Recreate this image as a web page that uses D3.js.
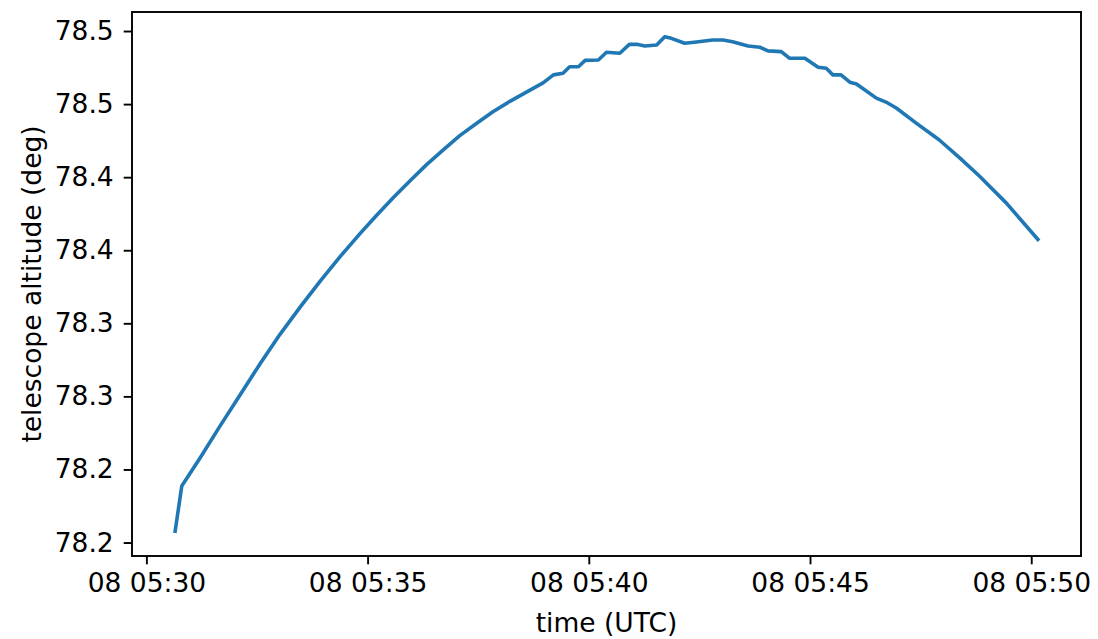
<!DOCTYPE html>
<html>
<head>
<meta charset="utf-8">
<script src="https://cdn.jsdelivr.net/npm/d3@7"></script>
<style>
  body { margin: 0; background: #fff; }
  text { font-family: "DejaVu Sans", sans-serif; }
</style>
</head>
<body>
<svg id="chart" width="1098" height="639"></svg>
<script>
'use strict';

// sample times (UTC, day 08) and telescope altitude in degrees
var times = [
  '05:30:39', '05:30:48', '05:31:13', '05:31:40', '05:32:07', '05:32:34',
  '05:33:01', '05:33:29', '05:33:56', '05:34:23', '05:34:50', '05:35:12',
  '05:35:35', '05:35:58', '05:36:20', '05:36:43', '05:37:05', '05:37:28',
  '05:37:50', '05:38:13', '05:38:36', '05:38:58', '05:39:12', '05:39:25',
  '05:39:34', '05:39:46', '05:39:55', '05:40:13', '05:40:24', '05:40:42',
  '05:40:55', '05:41:05', '05:41:16', '05:41:32', '05:41:43', '05:41:52',
  '05:42:10', '05:42:26', '05:42:48', '05:43:02', '05:43:15', '05:43:36',
  '05:43:52', '05:44:03', '05:44:21', '05:44:32', '05:44:53', '05:45:11',
  '05:45:22', '05:45:31', '05:45:42', '05:45:54', '05:46:03', '05:46:30',
  '05:46:43', '05:46:57', '05:47:24', '05:47:55', '05:48:23', '05:48:50',
  '05:49:26', '05:50:09'
];
var altitude = [
  78.2077, 78.2387, 78.2580, 78.2798, 78.3010, 78.3221,
  78.3423, 78.3614, 78.3791, 78.3958, 78.4115, 78.4238,
  78.4361, 78.4477, 78.4586, 78.4688, 78.4784, 78.4869,
  78.4947, 78.5019, 78.5084, 78.5145, 78.5200, 78.5211,
  78.5256, 78.5256, 78.5299, 78.5302, 78.5355, 78.5348,
  78.5409, 78.5409, 78.5398, 78.5404, 78.5461, 78.5450,
  78.5416, 78.5425, 78.5439, 78.5439, 78.5427, 78.5398,
  78.5389, 78.5364, 78.5359, 78.5314, 78.5314, 78.5252,
  78.5245, 78.5200, 78.5200, 78.5150, 78.5138, 78.5041,
  78.5014, 78.4973, 78.4870, 78.4756, 78.4632, 78.4506,
  78.4324, 78.4074
];

var xTicks = ['05:30:00', '05:35:00', '05:40:00', '05:45:00', '05:50:00'];
var yTicks = [78.20, 78.25, 78.30, 78.35, 78.40, 78.45, 78.50, 78.55];
var yTickLabels = ['78.2', '78.2', '78.3', '78.3', '78.4', '78.4', '78.5', '78.5'];

var day = '2021-01-08T';
var parse = d3.utcParse('%Y-%m-%dT%H:%M:%S');
var data = times.map(function (t, i) {
  return { t: parse(day + t), v: altitude[i] };
});

var svg = d3.select('#chart');
var margin = { left: 132, top: 12, right: 17, bottom: 83 };
var W = 1098, H = 639;
var innerW = W - margin.left - margin.right;
var innerH = H - margin.top - margin.bottom;
var fontSize = '26.5px';

// matplotlib style 5% margins around the data
var tExt = d3.extent(data, function (d) { return d.t; });
var vExt = d3.extent(data, function (d) { return d.v; });
var tPad = (tExt[1] - tExt[0]) * 0.05;
var vPad = (vExt[1] - vExt[0]) * 0.05;

var x = d3.scaleUtc()
  .domain([new Date(+tExt[0] - tPad), new Date(+tExt[1] + tPad)])
  .range([0, innerW]);
var y = d3.scaleLinear()
  .domain([vExt[0] - vPad, vExt[1] + vPad])
  .range([innerH, 0]);

var g = svg.append('g')
  .attr('transform', 'translate(' + margin.left + ',' + margin.top + ')');

var fmt = d3.utcFormat('%d %H:%M');

var xAxis = d3.axisBottom(x)
  .tickValues(xTicks.map(function (t) { return parse(day + t); }))
  .tickFormat(fmt)
  .tickSizeInner(8.3)
  .tickSizeOuter(0)
  .tickPadding(9);

var yAxis = d3.axisLeft(y)
  .tickValues(yTicks)
  .tickFormat(function (d, i) { return yTickLabels[i]; })
  .tickSizeInner(8.3)
  .tickSizeOuter(0)
  .tickPadding(10);

var gx = g.append('g')
  .attr('transform', 'translate(0,' + innerH + ')')
  .call(xAxis);
var gy = g.append('g').call(yAxis);

[gx, gy].forEach(function (a) {
  a.select('.domain').remove();
  a.selectAll('line').attr('stroke', '#000').attr('stroke-width', 1.9);
  a.selectAll('text')
    .attr('fill', '#000')
    .style('font-size', fontSize)
    .style('font-family', '"DejaVu Sans", sans-serif');
});

// frame
g.append('rect')
  .attr('width', innerW)
  .attr('height', innerH)
  .attr('fill', 'none')
  .attr('stroke', '#000')
  .attr('stroke-width', 1.9);

var line = d3.line()
  .x(function (d) { return x(d.t); })
  .y(function (d) { return y(d.v); });

g.append('path')
  .datum(data)
  .attr('d', line)
  .attr('fill', 'none')
  .attr('stroke', '#1f77b4')
  .attr('stroke-width', 3.6)
  .attr('stroke-linejoin', 'round')
  .attr('stroke-linecap', 'square');

svg.append('text')
  .attr('x', margin.left + innerW / 2)
  .attr('y', 632)
  .attr('text-anchor', 'middle')
  .style('font-size', fontSize)
  .text('time (UTC)');

svg.append('text')
  .attr('transform', 'translate(41,' + (margin.top + innerH / 2) + ') rotate(-90)')
  .attr('text-anchor', 'middle')
  .style('font-size', fontSize)
  .text('telescope altitude (deg)');
</script>
</body>
</html>
